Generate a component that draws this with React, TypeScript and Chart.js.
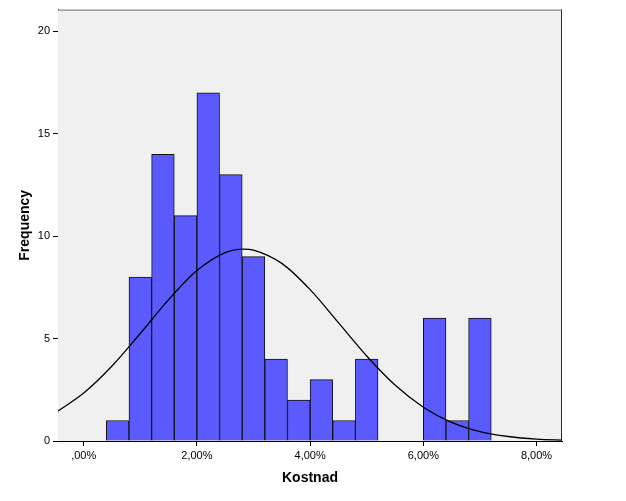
import React, { useEffect, useRef } from 'react';
import { Chart, registerables } from 'chart.js';

Chart.register(...registerables);

// Histogram bins (centre of each 0,40 %-wide bin) and counts
const binCenters = [0.6, 1.0, 1.4, 1.8, 2.2, 2.6, 3.0, 3.4, 3.8, 4.2, 4.6, 5.0, 5.4, 5.8, 6.2, 6.6, 7.0];
const frequencies = [1, 8, 14, 11, 17, 13, 9, 4, 2, 3, 1, 4, 0, 0, 6, 1, 6];

// Normal curve
const curveX = [-0.5, 0, 0.5, 1, 1.5, 2, 2.5, 2.83, 3, 3.5, 4, 4.5, 5, 5.5, 6, 6.5, 7, 7.5, 8, 8.5];
const curveY = [1.38, 2.34, 3.66, 5.25, 6.9, 8.32, 9.2, 9.37, 9.32, 8.67, 7.39, 5.78, 4.15, 2.73, 1.65, 0.91, 0.46, 0.22, 0.09, 0.04];

const xTicks = [0, 2, 4, 6, 8];
const yTicks = [0, 5, 10, 15, 20];
const xTitle = 'Kostnad';
const yTitle = 'Frequency';

const fmtPct = (v: number) => (v === 0 ? ',00%' : v.toFixed(2).replace('.', ',') + '%');

const frame = {
  id: 'frame',
  beforeDatasetsDraw(chart: any) {
    const { ctx, chartArea: a } = chart;
    ctx.save();
    ctx.fillStyle = '#F0F0F0';
    ctx.fillRect(a.left, a.top, a.right - a.left, a.bottom - a.top);
    ctx.restore();
  },
  afterDraw(chart: any) {
    const { ctx, chartArea: a } = chart;
    ctx.save();
    ctx.lineWidth = 1;
    ctx.strokeStyle = '#6E6E6E';
    ctx.beginPath();
    ctx.moveTo(a.left, a.top + 0.5);
    ctx.lineTo(a.right, a.top + 0.5);
    ctx.stroke();
    ctx.strokeStyle = '#2A2A2A';
    ctx.beginPath();
    ctx.moveTo(a.right - 0.5, a.top);
    ctx.lineTo(a.right - 0.5, a.bottom);
    ctx.stroke();
    ctx.restore();
  },
};

export default function App() {
  const ref = useRef<HTMLCanvasElement>(null);
  useEffect(() => {
    if (!ref.current) return;
    const font = "Arial, 'Liberation Sans', sans-serif";
    const chart = new Chart(ref.current, {
      data: {
        datasets: [
          {
            type: 'line',
            data: curveX.map((x, i) => ({ x, y: curveY[i] })),
            borderColor: '#000000',
            borderWidth: 1.3,
            pointRadius: 0,
            cubicInterpolationMode: 'monotone',
            fill: false,
            order: 0,
          } as any,
          {
            type: 'bar',
            data: binCenters.map((x, i) => ({ x, y: frequencies[i] })),
            backgroundColor: '#5A5AFF',
            borderColor: '#111111',
            borderWidth: 1,
            barPercentage: 1,
            categoryPercentage: 1,
            order: 1,
          } as any,
        ],
      },
      options: {
        responsive: false,
        animation: false,
        events: [],
        layout: { padding: { left: 0, right: 64, top: 5, bottom: 0 } },
        plugins: { legend: { display: false }, tooltip: { enabled: false } },
        scales: {
          x: {
            type: 'linear',
            min: -0.454,
            max: 8.45,
            offset: false,
            afterBuildTicks: (s: any) => {
              s.ticks = xTicks.map((v) => ({ value: v }));
            },
            afterFit: (s: any) => {
              s.height = 60;
            },
            ticks: {
              color: '#000',
              font: { family: font, size: 11 },
              padding: 3,
              maxRotation: 0,
              callback: (v: any) => fmtPct(Number(v)),
            },
            grid: { offset: false, drawOnChartArea: false, drawTicks: true, tickLength: 5, color: '#000' },
            border: { display: true, color: '#000', width: 1 },
            title: {
              display: true,
              text: xTitle,
              color: '#000',
              font: { family: font, size: 14, weight: 'bold' },
              padding: { top: 0, bottom: 14.6 },
            },
          },
          y: {
            type: 'linear',
            min: 0,
            max: 21.06,
            afterBuildTicks: (s: any) => {
              s.ticks = yTicks.map((v) => ({ value: v }));
            },
            afterFit: (s: any) => {
              s.width = 58;
            },
            ticks: {
              color: '#000',
              font: { family: font, size: 11 },
              padding: 3,
            },
            grid: { offset: false, drawOnChartArea: false, drawTicks: true, tickLength: 5, color: '#000' },
            border: { display: true, color: '#000', width: 1 },
            title: {
              display: true,
              text: yTitle,
              color: '#000',
              font: { family: font, size: 14, weight: 'bold' },
              padding: { top: 17, bottom: 0 },
            },
          },
        },
      },
      plugins: [frame],
    });
    return () => chart.destroy();
  }, []);
  return (
    <div style={{ position: 'absolute', left: 0, top: 0, width: 626, height: 501, background: '#fff' }}>
      <canvas ref={ref} width={626} height={501} />
    </div>
  );
}
